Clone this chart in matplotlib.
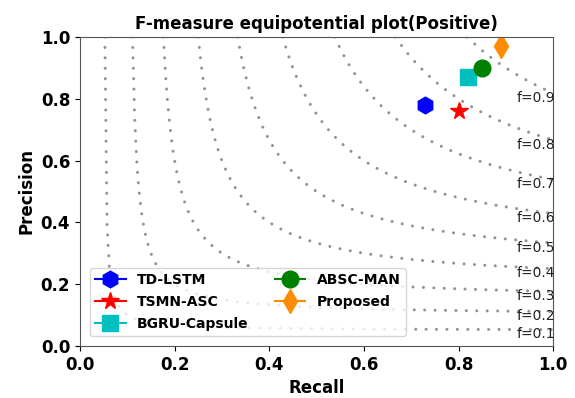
import numpy as np
import matplotlib.pyplot as plt

# model scores on the positive class
models = ["TD-LSTM", "TSMN-ASC", "BGRU-Capsule", "ABSC-MAN", "Proposed"]
recall = [0.73, 0.80, 0.82, 0.85, 0.89]
precision = [0.78, 0.76, 0.87, 0.90, 0.97]
markers = ["h", "*", "s", "o", "d"]
colors = ["b", "r", "c", "g", "darkorange"]

f_scores = [0.1, 0.2, 0.3, 0.4, 0.5, 0.6, 0.7, 0.8, 0.9]

fig = plt.figure(figsize=(5.75, 3.98), dpi=100)
ax = fig.add_axes([0.139, 0.131, 0.823, 0.776])

# iso-F curves: P = f*R / (2R - f)
for f in f_scores:
    x = np.linspace(f / (2 - f), 1, 200)
    y = f * x / (2 * x - f)
    ax.plot(x, y, color="gray", linestyle=(0, (0.01, 3.4)), linewidth=2.2,
            alpha=0.85, dash_capstyle="round")
    ax.annotate("f={0:0.1f}".format(f), xy=(0.922, y[-1] - 0.015),
                fontsize=10, va="center", color="#222222")

for name, r, p, m, c in zip(models, recall, precision, markers, colors):
    ax.plot([r], [p], marker=m, color=c, markersize=12 if m != "*" else 13,
            linestyle="-", label=name)

ax.set_xlim(0.0, 1.0)
ax.set_ylim(0.0, 1.0)
ax.set_xlabel("Recall", fontsize=12, fontweight="bold")
ax.set_ylabel("Precision", fontsize=12, fontweight="bold")
ax.set_title("F-measure equipotential plot(Positive)", fontsize=12, fontweight="bold")
for lbl in ax.get_xticklabels() + ax.get_yticklabels():
    lbl.set_fontweight("bold")
    lbl.set_fontsize(12)
for sp in ax.spines.values():
    sp.set_color("#555555")

ax.legend(loc="lower left", ncol=2, prop={"weight": "bold", "size": 10},
          handlelength=2.2, columnspacing=1.9, labelspacing=0.55,
          borderaxespad=0.7, borderpad=0.4)

fig.savefig("out.png", dpi=100)
